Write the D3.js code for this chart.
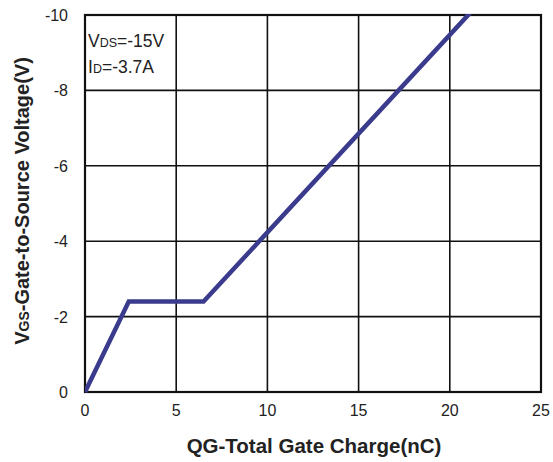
<!DOCTYPE html>
<html>
<head>
<meta charset="utf-8">
<script src="https://cdn.jsdelivr.net/npm/d3@7"></script>
<style>
body { margin: 0; background: #fff; }
text { font-family: "Liberation Sans", Arial, sans-serif; }
</style>
</head>
<body>
<svg width="553" height="462"></svg>
<script>
// gate charge curve
var charge = [0, 2.4, 6.5, 21.1];
var vgs = [0, -2.4, -2.4, -10.05];
var xTicks = [0, 5, 10, 15, 20, 25];
var yTicks = [0, -2, -4, -6, -8, -10];

var svg = d3.select("svg"),
    margin = {top: 15, right: 12, bottom: 70, left: 85},
    width = +svg.attr("width") - margin.left - margin.right,
    height = +svg.attr("height") - margin.top - margin.bottom,
    g = svg.append("g").attr("transform", "translate(" + margin.left + "," + margin.top + ")");

var x = d3.scaleLinear().domain([0, 25]).range([0, width]);
var y = d3.scaleLinear().domain([0, -10]).range([height, 0]);

// grid
g.append("g")
    .selectAll("line.v")
    .data(xTicks)
    .enter().append("line")
    .attr("x1", function (d) { return x(d); })
    .attr("x2", function (d) { return x(d); })
    .attr("y1", 0).attr("y2", height)
    .attr("stroke", "#111").attr("stroke-width", 1.6);

g.append("g")
    .selectAll("line.h")
    .data(yTicks)
    .enter().append("line")
    .attr("x1", 0).attr("x2", width)
    .attr("y1", function (d) { return y(d); })
    .attr("y2", function (d) { return y(d); })
    .attr("stroke", "#111").attr("stroke-width", 1.6);

g.append("rect")
    .attr("width", width).attr("height", height)
    .attr("fill", "none").attr("stroke", "#111").attr("stroke-width", 2.2);

// tick labels
g.append("g")
    .selectAll("text")
    .data(xTicks)
    .enter().append("text")
    .attr("x", function (d) { return x(d); })
    .attr("y", height + 24)
    .attr("text-anchor", "middle")
    .attr("font-size", 16)
    .attr("fill", "#222")
    .text(function (d) { return d; });

g.append("g")
    .selectAll("text")
    .data(yTicks)
    .enter().append("text")
    .attr("x", -17)
    .attr("y", function (d) { return y(d) + 6; })
    .attr("text-anchor", "end")
    .attr("font-size", 16)
    .attr("fill", "#222")
    .text(function (d) { return d; });

// curve
var line = d3.line()
    .x(function (d) { return x(d[0]); })
    .y(function (d) { return y(d[1]); });

g.append("clipPath").attr("id", "clip")
    .append("rect").attr("width", width).attr("height", height + 4).attr("y", -1);

g.append("path")
    .datum(d3.zip(charge, vgs))
    .attr("clip-path", "url(#clip)")
    .attr("fill", "none")
    .attr("stroke", "#3b3b8e")
    .attr("stroke-width", 4.5)
    .attr("stroke-linejoin", "miter")
    .attr("d", line);

// annotation
var a1 = g.append("text").attr("x", 3).attr("y", 32).attr("font-size", 17.5).attr("fill", "#222");
a1.append("tspan").text("V");
a1.append("tspan").attr("font-size", 12.5).text("DS");
a1.append("tspan").text("=-15V");

var a2 = g.append("text").attr("x", 3).attr("y", 58).attr("font-size", 17.5).attr("fill", "#222");
a2.append("tspan").text("I");
a2.append("tspan").attr("font-size", 12.5).text("D");
a2.append("tspan").text("=-3.7A");

// axis titles
svg.append("text")
    .attr("x", 314)
    .attr("y", 453)
    .attr("text-anchor", "middle")
    .attr("font-size", 20.5)
    .attr("font-weight", "bold")
    .attr("fill", "#222")
    .text("QG-Total Gate Charge(nC)");

var yt = svg.append("text")
    .attr("transform", "translate(29,201) rotate(-90)")
    .attr("text-anchor", "middle")
    .attr("font-size", 20)
    .attr("font-weight", "bold")
    .attr("fill", "#222");
yt.append("tspan").text("V");
yt.append("tspan").attr("font-size", 14).text("GS");
yt.append("tspan").text("-Gate-to-Source Voltage(V)");
</script>
</body>
</html>
